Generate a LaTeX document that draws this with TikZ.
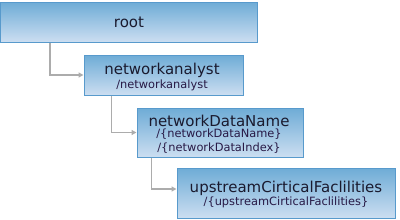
\documentclass[tikz,border=0pt]{standalone}
\usepackage{fontspec}
\setmainfont{DejaVu Sans}
\usetikzlibrary{arrows.meta}
\definecolor{boxtop}{RGB}{110,172,214}
\definecolor{boxbot}{RGB}{204,222,241}
\definecolor{boxline}{RGB}{88,154,204}
\definecolor{conncol}{RGB}{172,172,172}
\definecolor{titlecol}{RGB}{26,26,46}
\definecolor{subcol}{RGB}{40,26,70}
\tikzset{
  box/.style={draw=boxline, line width=1pt, top color=boxtop, bottom color=boxbot, rectangle, inner sep=0pt},
  ttl/.style={text=titlecol, font=\fontsize{15}{17}\selectfont, inner sep=0pt, anchor=center},
  sub/.style={text=subcol, font=\fontsize{11.4}{13}\selectfont, inner sep=0pt, anchor=center},
  conn/.style={draw=conncol, line width=1.5pt, -{Triangle[length=5pt,width=5pt]}}
}
\begin{document}
\begin{tikzpicture}[x=1pt,y=1pt]
\useasboundingbox (0,0) rectangle (400,-220);
% boxes
\node[box, minimum width=257pt, minimum height=40pt] (root) at (129,-22) {};
\node[box, minimum width=159pt, minimum height=40pt] (na) at (163.5,-75) {};
\node[box, minimum width=166pt, minimum height=49pt] (ndn) at (220,-132.5) {};
\node[box, minimum width=218pt, minimum height=50pt] (up) at (286,-193) {};
% texts
\node[ttl] (roott) at (129,-22) {root};
\node[ttl] (nat) at (162,-70) {networkanalyst};
\node[sub] (nas) at (162,-85) {/networkanalyst};
\node[ttl] (ndnt) at (219,-121) {networkDataName};
\node[sub] (ndns1) at (219,-134.5) {/\{networkDataName\}};
\node[sub] (ndns2) at (219,-148) {/\{networkDataIndex\}};
\node[ttl] (upt) at (286,-188) {upstreamCirticalFaclilities};
\node[sub] (ups) at (286,-202) {/\{upstreamCirticalFaclilities\}};
% connectors
\draw[conn] ([xshift=50pt]root.south west) |- (na.west);
\draw[conn] ([xshift=28pt]na.south west) |- (ndn.west);
\draw[conn] ([xshift=15pt]ndn.south west) |- ([yshift=4pt]up.west);
\end{tikzpicture}
\end{document}
